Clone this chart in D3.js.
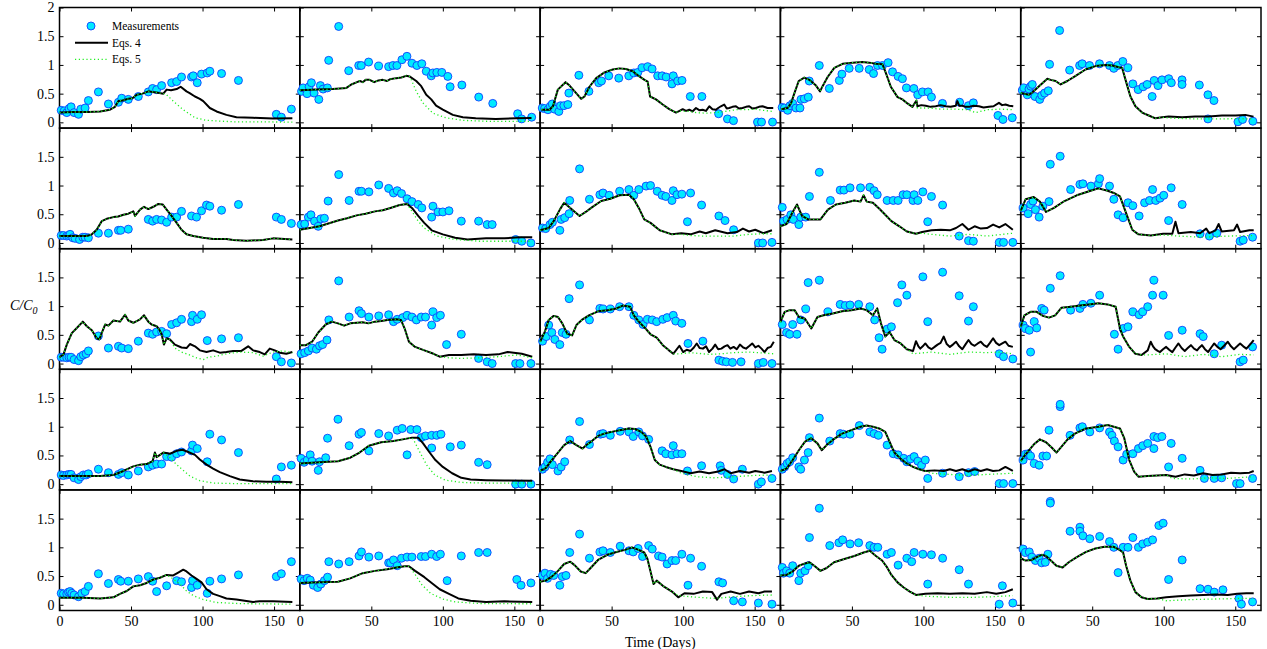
<!DOCTYPE html>
<html>
<head>
<meta charset="utf-8">
<script src="https://cdn.jsdelivr.net/npm/d3@7"></script>
<style>
  html, body { margin: 0; padding: 0; background: #fff; }
  svg { display: block; font-family: "Liberation Serif", "Times New Roman", serif; }
  .axis text { font-family: "Liberation Serif", "Times New Roman", serif; font-size: 14px; fill: #000; }
  .axis line { stroke: #000; stroke-width: 1; }
</style>
</head>
<body>
<div id="chart"></div>
<script>
// ---- axis settings ----
const dayDomain = [0, 168];
const valueDomain = [-0.1, 2];
const dayTicks = [0, 50, 100, 150];
const valueTicksTop = [0, 0.5, 1, 1.5, 2];
const valueTicks = [0, 0.5, 1, 1.5];
const legendLabels = ["Measurements", "Eqs. 4", "Eqs. 5"];
const xTitle = "Time (Days)";

// ---- measured C/C0, one list of [day, value] per panel (row by row) ----
const measurements = [
  // row 1
  [[1.2,.21],[3.3,.20],[5.1,.17],[6.7,.24],[8.1,.27],[10.2,.17],[13.3,.14],[14.9,.23],[17.9,.25],[20.2,.38],[27.2,.53],[34.2,.32],[41.2,.35],[43.5,.42],[48.1,.40],[55.1,.45],[62.1,.53],[65.1,.59],[67.9,.57],[71.4,.64],[78.4,.69],[81.9,.71],[85.3,.79],[92.3,.79],[93.5,.81],[96.3,.69],[99.3,.84],[103.3,.86],[105.1,.89],[113.3,.85],[125.1,.73],[151.6,.14],[155.1,.09],[162.1,.23]],
  [[1.2,.54],[2.3,.60],[5.1,.50],[6.5,.62],[8.1,.69],[10,.51],[13.3,.40],[14.4,.64],[16.3,.58],[19.3,.60],[20.2,1.08],[27.2,1.67],[34.2,.90],[41.2,.99],[43,.99],[48.1,1.05],[55.1,.98],[62.1,.97],[65.1,.99],[67.9,.99],[71.4,1.09],[74.9,1.15],[78.4,1.03],[81.9,.99],[85.3,1.02],[88.4,.89],[91.9,.81],[93,.86],[95.8,.87],[99.3,.87],[103.5,.80],[105.1,.62],[113.3,.65],[125.1,.44],[134.9,.33],[152.3,.15],[155.1,.06],[162.1,.09]],
  [[1.5,.25],[3.1,.24],[5.5,.22],[7.1,.28],[8.5,.32],[10.1,.23],[13.1,.19],[14.3,.29],[16.6,.29],[19.4,.31],[20.1,.51],[27.1,.82],[34.1,.54],[41,.69],[42.9,.72],[48,.81],[55,.77],[62,.81],[65.5,.86],[68.3,.87],[71.3,.95],[75.2,.97],[78.3,.93],[82.2,.81],[85.3,.81],[88.1,.79],[92.2,.67],[93.1,.81],[96.2,.72],[99.2,.73],[105,.45],[113.1,.45],[124.8,.15],[131,.06],[135.2,.03],[152,.005],[154.8,.005],[162.5,.005]],
  [[1.2,.26],[2.8,.25],[5.1,.21],[6.7,.29],[8.6,.33],[10.9,.25],[13.7,.25],[14.4,.40],[16.7,.41],[19.5,.44],[20.2,.72],[27.2,.99],[34.2,.59],[41.2,.73],[43,.84],[48.1,.94],[55.1,.94],[62.1,.92],[65.1,.85],[67.9,.99],[71.4,.99],[75.3,1.04],[78.4,.88],[82.3,.80],[85.3,.76],[88.1,.60],[93.3,.59],[96,.48],[99.3,.53],[103.3,.53],[105.6,.44],[113.3,.33],[125.3,.35],[131.4,.29],[134.9,.34],[152.1,.12],[155.6,.05],[162.1,.08]],
  [[1.2,.56],[2.3,.60],[4.7,.48],[5.8,.58],[7,.63],[8.1,.66],[10,.45],[13.3,.40],[14.7,.47],[16.7,.51],[19.3,.55],[20.2,1.01],[27.2,1.60],[34.2,.91],[41.2,.99],[43,1.02],[48.1,.99],[55.1,1.02],[62.1,.99],[65.1,.94],[67.9,.99],[71.4,1.06],[74.9,.95],[78.4,.67],[82.1,.57],[85.6,.62],[88.4,.66],[91.9,.45],[93.3,.73],[96,.64],[98.8,.74],[103.5,.76],[105.3,.69],[112.8,.74],[112.8,.66],[124.9,.65],[130.9,.48],[135.1,.38],[130.9,.06],[151.9,.01],[155.1,.05],[162.3,.02]],
  // row 2
  [[1.2,.13],[2.8,.13],[5.1,.12],[6.3,.13],[7.4,.15],[9.3,.09],[10.9,.08],[14,.06],[16.3,.10],[17.9,.10],[20.2,.09],[27.2,.17],[34.2,.17],[41.2,.22],[42.8,.22],[48.1,.24],[62.1,.41],[65.1,.38],[67.9,.41],[71.4,.40],[74.9,.36],[78.4,.45],[81.9,.45],[85.3,.55],[92.3,.47],[95.8,.45],[99.3,.56],[102.8,.66],[105.1,.64],[113.3,.57],[125.1,.67],[151.6,.45],[155.1,.41],[162.1,.34]],
  [[0.9,.32],[3.4,.33],[6,.45],[7.8,.49],[10.3,.38],[12.9,.29],[14.7,.42],[17.2,.43],[19.8,.73],[27.2,1.19],[34.5,.74],[41.4,.90],[43.1,.90],[48.3,.89],[55.2,1.01],[62.1,.95],[65.5,.87],[68.1,.91],[71.1,.86],[75,.77],[78.4,.72],[82.8,.67],[85.3,.61],[92.2,.45],[93.1,.64],[96.6,.54],[100,.54],[104.3,.56],[112.9,.38],[125,.38],[131,.32],[134.5,.32],[150.9,.06],[155.2,.03],[161.6,0]],
  [[1.7,.26],[3.9,.25],[6.9,.32],[8.6,.36],[13.8,.22],[14.7,.41],[17.2,.44],[20.3,.51],[20.7,.74],[27.6,1.29],[34.5,.76],[41.8,.84],[44,.87],[48.3,.83],[55.6,.90],[62.1,.93],[65.5,.83],[69,.93],[74.1,.99],[77.2,1.0],[81.9,.90],[85.3,.83],[87.9,.81],[92.2,.74],[93.1,.91],[95.7,.84],[99.1,.85],[103,.37],[105.2,.87],[112.9,.66],[125,.47],[129.3,.39],[135.3,.23],[152.6,0],[155.6,0],[162.1,.01]],
  [[1.3,.62],[2.2,.38],[4.7,.41],[7.3,.49],[9,.41],[12.9,.32],[14.2,.45],[17.7,.45],[20.3,.81],[27.2,1.23],[35,.74],[41.8,.92],[44.4,.92],[48.7,.96],[56,.96],[62.5,.97],[65.5,.91],[67.7,.84],[74.6,.74],[78.9,.74],[82.3,.74],[85.8,.84],[88.4,.84],[92.7,.74],[93.5,.84],[96.1,.74],[99.6,.89],[103,.37],[105.6,.81],[113.4,.66],[125,.12],[131.5,.04],[134.9,.03],[153,.01],[156,.01],[162.5,.01]],
  [[1.7,.61],[5.2,.51],[6.9,.67],[8.6,.73],[10.3,.58],[12.9,.45],[15.5,.64],[19.8,.72],[20.7,1.37],[27.6,1.51],[34.9,.93],[41.4,1.02],[43.5,1.03],[49.1,.99],[54.3,1.03],[55.2,1.12],[62.1,.99],[65.1,.76],[68.1,.49],[71.6,.44],[75,.70],[78.4,.65],[82.8,.47],[86.6,.70],[90.1,.74],[92.2,.93],[94.4,.74],[97.4,.78],[100,.83],[103.4,.39],[105.2,.96],[112.9,.67],[125.4,.16],[131.9,.12],[137.1,.17],[153.4,.03],[155.6,.05],[162.1,.10]],
  // row 3
  [[1.2,.11],[2.8,.11],[5.1,.10],[6.7,.11],[8.1,.11],[10.2,.07],[13.3,.05],[14.9,.12],[16.7,.15],[18.6,.17],[20.2,.22],[27.2,.48],[34.2,.27],[41.2,.30],[43.5,.27],[48.1,.26],[55.1,.39],[62.1,.53],[65.1,.51],[67.9,.55],[71.4,.56],[74.9,.52],[78.4,.68],[81.9,.71],[85.3,.77],[92.3,.73],[93,.84],[96.3,.77],[99.3,.85],[103.3,.40],[113.3,.43],[125.1,.45],[151.6,.12],[155.1,.03],[162.1,.01]],
  [[0.9,.17],[3.4,.19],[6,.22],[8.6,.27],[11.6,.25],[13.8,.31],[15.9,.33],[19,.41],[20.3,.76],[27.2,1.44],[34.5,.81],[41.4,.92],[43.1,.87],[48.3,.81],[55.2,.83],[62.1,.85],[65.5,.73],[68.1,.77],[72,.80],[75,.84],[78.4,.81],[81.5,.76],[84.9,.81],[87.9,.81],[92.2,.67],[93.1,.90],[95.7,.80],[98.3,.84],[102.6,.33],[112.9,.51],[125,.09],[131,.03],[134.5,0],[150.9,0],[153.9,0],[161.6,0]],
  [[1.7,.39],[4.3,.47],[6,.67],[8.2,.54],[10.3,.42],[13.8,.33],[15.5,.54],[18.1,.51],[20.3,1.13],[27.6,1.37],[34.5,.76],[41.8,.96],[44,.95],[49.1,.95],[55.6,.99],[62.1,.99],[65.5,.84],[69,.76],[72,.68],[75,.77],[78.4,.76],[81.5,.73],[85.8,.77],[88.8,.80],[93.1,.84],[94.8,.74],[99.1,.70],[103.4,.35],[113.8,.39],[125,.06],[127.6,.04],[130.2,.03],[134.5,.02],[140.5,.03],[152.6,0],[156,.02],[162.1,0]],
  [[1.3,.68],[4.3,.54],[6.5,.51],[8.6,.68],[11.6,.51],[14.2,.76],[17.7,.95],[19.4,1.41],[27.2,1.45],[33.2,.90],[41.8,1.03],[45.3,1.01],[48.7,1.02],[54.7,1.03],[62.5,.99],[65.9,.76],[69,.45],[71.1,.25],[74.6,.60],[77.6,.64],[81.9,1.06],[84.9,1.37],[88.4,1.19],[99.6,1.51],[103,.73],[113.4,1.59],[125,1.18],[131.5,.74],[134.9,.99],[153,.17],[156,.12],[162.5,.08]],
  [[1.7,.67],[3.4,.61],[6,.58],[6.9,.20],[9.5,.73],[11.2,.62],[14.7,.96],[16.4,.93],[20.7,1.31],[27.6,1.53],[34.9,.93],[41.4,.96],[43.5,1.03],[49.1,1.05],[55.2,1.19],[65.5,.51],[68.1,.25],[71.6,.61],[75,.64],[78.4,.90],[82.8,.85],[85.3,.90],[88.8,.99],[92.2,1.19],[93.1,1.45],[99.6,1.19],[103.4,.49],[112.9,.58],[125.4,.52],[127.6,.47],[135.3,.17],[140.5,.32],[153.4,.03],[155.6,.06],[162.1,.29]],
  // row 4
  [[1.2,.16],[2.8,.15],[5.1,.16],[6.7,.17],[8.1,.17],[10.2,.11],[13.3,.08],[14.9,.13],[16.7,.16],[18.6,.16],[20.2,.18],[27.2,.26],[34.2,.20],[41.2,.17],[43.5,.20],[48.1,.16],[55.1,.23],[62.1,.30],[65.1,.33],[67.9,.35],[71.4,.35],[74.9,.48],[78.4,.47],[81.9,.53],[85.3,.56],[92.3,.58],[93,.68],[96.3,.62],[103.3,.39],[105.1,.87],[113.3,.77],[125.1,.55],[151.6,.09],[155.1,.30],[162.1,.33]],
  [[0.9,.45],[3,.38],[5.2,.42],[7.3,.51],[8.6,.40],[12.9,.24],[13.8,.39],[18.1,.46],[19.4,.80],[26.7,1.13],[34.5,.67],[41.4,.87],[43.1,.90],[48.3,.58],[55.2,.88],[62.1,.84],[68.1,.94],[71.6,.97],[75,.51],[77.6,.95],[81.9,.95],[84.9,.81],[87.9,.84],[92.2,.63],[92.2,.85],[95.7,.85],[98.7,.87],[105.2,.65],[112.9,.68],[125,.38],[131,.34],[150.9,0],[155.2,0],[161.6,0]],
  [[1.7,.26],[3.4,.30],[5.2,.38],[6.9,.44],[8.6,.34],[12.5,.23],[14.7,.30],[17.2,.39],[20.7,.77],[27.6,1.09],[34.5,.69],[42.2,.87],[44,.88],[49.1,.85],[56,.92],[62.1,.91],[65.1,.83],[69,.91],[71.6,.84],[75.9,.78],[85.3,.58],[87.9,.53],[92.2,.51],[93.1,.67],[95.7,.53],[99.1,.53],[103,.23],[112.9,.32],[125.9,.32],[126.7,.24],[131,.17],[135.3,.09],[141.4,.26],[152.6,0],[154.7,.04],[162.1,.10]],
  [[1.3,.26],[3,.30],[4.7,.36],[6.5,.39],[8.6,.46],[12.9,.30],[14.2,.26],[16.8,.42],[19.4,.55],[20.3,.81],[27.2,1.15],[34.5,.75],[41.8,.88],[44,.87],[48.7,.87],[55.2,1.02],[62.5,.91],[65.5,.88],[68.5,.85],[74.6,.68],[78.9,.53],[82.3,.51],[86.2,.45],[88.4,.39],[91,.44],[93.5,.48],[96.1,.40],[98.7,.33],[101.3,.42],[103,.10],[113.4,.19],[125,.13],[131.5,.20],[135.8,.22],[153,.01],[156,.01],[162.5,.01]],
  [[1.7,.42],[3.4,.52],[5.2,.53],[6.9,.49],[9.5,.36],[12.9,.33],[15.5,.49],[18.1,.49],[19.8,.94],[27.6,1.35],[27.6,1.39],[34.5,.85],[41.4,.98],[43.1,1.0],[48.3,.91],[55.2,.98],[62.1,.91],[63.8,.85],[65.5,.75],[68.1,.65],[71.6,.42],[74.1,.52],[78.4,.53],[82.3,.62],[85.3,.67],[88.8,.71],[93.1,.83],[93.1,.62],[95.7,.81],[98.7,.83],[103.4,.30],[105.2,.71],[112.9,.45],[125.4,.24],[128.4,.10],[135.3,.10],[140.5,.11],[150.9,.01],[153.4,.01],[162.1,.10]],
  // row 5
  [[1.2,.20],[2.8,.19],[5.1,.19],[6.3,.22],[7.4,.23],[8.6,.20],[10.2,.17],[13.3,.14],[15.6,.20],[17.9,.23],[20.2,.32],[27.2,.54],[34.2,.37],[41.2,.44],[42.8,.41],[48.1,.41],[55.1,.45],[62.1,.49],[65.1,.41],[67.9,.23],[74.9,.33],[81.9,.42],[85.3,.40],[92.3,.30],[93,.42],[96.3,.34],[103.3,.20],[105.1,.41],[113.3,.45],[125.1,.52],[151.6,.49],[155.1,.54],[162.1,.75]],
  [[0.9,.45],[3,.42],[5.2,.46],[7.3,.43],[9.5,.34],[12.5,.30],[14.7,.36],[17.2,.42],[19.4,.48],[20.3,.75],[27.2,.71],[34.5,.75],[41.4,.85],[43.1,.92],[48.3,.83],[55.2,.85],[62.1,.73],[63.4,.73],[65.5,.78],[68.1,.68],[71.1,.81],[75,.83],[78.4,.83],[84.9,.84],[87.9,.84],[92.2,.88],[95.7,.84],[98.3,.88],[103,.42],[112.9,.85],[125,.91],[131,.91],[151.7,.44],[154.7,.34],[161.6,.38]],
  [[1.7,.51],[3.4,.55],[5.2,.46],[7.3,.53],[9.5,.51],[13.8,.34],[15.5,.49],[18.1,.51],[20.7,.91],[27.6,1.23],[34.5,.81],[41.8,.92],[44,.94],[49.1,.91],[56,1.02],[62.1,.94],[65.1,.92],[68.5,.98],[71.6,.84],[75.9,1.03],[78.4,.97],[82.8,.85],[85.3,.83],[88.8,.71],[92.2,.77],[94.8,.77],[99.1,.88],[103.4,.34],[105.2,.81],[112.9,.67],[125,.40],[127.6,.38],[135.3,.07],[141.4,.05],[152.6,.03],[162.1,.01]],
  [[1.3,.65],[2.2,.55],[4.3,.59],[6.5,.55],[8.6,.68],[12.9,.42],[14.2,.55],[17.2,.59],[19.4,.68],[20.3,1.17],[27.2,1.68],[34.5,1.03],[40.9,1.08],[43.5,1.13],[48.7,1.06],[54.7,1.08],[62.5,1.03],[65.5,1.0],[68.1,1.0],[74.6,.88],[77.6,.91],[82.3,.69],[88.4,.81],[91.8,.75],[93.5,.91],[99.6,.88],[103,.36],[105.6,.87],[113.4,.81],[125,.61],[131.5,.36],[153,.01],[155.2,.33],[162.5,.03]],
  [[1.7,.97],[3.4,.91],[6,.92],[7.8,.83],[10.3,.77],[12.9,.81],[14.7,.73],[17.2,.74],[19,.88],[20.7,1.80],[20.7,1.77],[34.5,1.28],[41.4,1.35],[41.4,1.28],[43.5,1.20],[48.3,1.15],[55.2,1.19],[62.1,1.10],[65.1,1.0],[68.1,.56],[71.6,1.0],[75,1.0],[78.4,1.17],[82.3,1.0],[85.3,1.06],[88.8,1.09],[92.2,1.13],[96.6,1.38],[99.6,1.42],[103.4,.44],[112.9,.78],[125.4,.28],[131,.27],[135.3,.22],[141.4,.26],[152.6,.11],[154.3,.01],[162.1,.05]]
];

// ---- Eqs. 4 simulated C/C0, [day, value] per panel ----
const eqs4 = [
  // row 1
  [[0,.17],[10,.18],[20,.18],[28.4,.19],[35.3,.22],[38.8,.27],[41.2,.37],[44,.38],[48.1,.41],[51,.42],[54,.48],[58,.50],[62.1,.54],[65,.53],[67.9,.52],[72.6,.50],[74.9,.57],[78,.56],[81.9,.58],[84.7,.62],[88.8,.54],[91,.51],[94.7,.45],[98.1,.41],[100.5,.37],[105.1,.25],[109.8,.19],[116.7,.13],[123.7,.09],[135.3,.08],[149.3,.065],[162.8,.07]],
  [[0,.56],[12,.57],[23,.58],[32.6,.60],[36,.66],[40,.70],[42,.72],[44,.70],[46,.74],[48.8,.74],[52,.70],[55,.73],[58,.74],[61,.72],[63,.75],[67.4,.77],[71,.78],[74.4,.81],[76.7,.80],[81.4,.72],[84.9,.63],[88.4,.48],[91.9,.40],[95.3,.29],[100,.22],[107,.13],[114,.09],[123,.07],[137,.06],[151,.07],[162,.075]],
  [[0.8,.22],[6.6,.22],[9,.28],[12.4,.57],[17.8,.70],[20.6,.64],[25.2,.51],[28.7,.41],[31,.45],[34.5,.62],[39.2,.77],[45,.87],[50.8,.92],[55.5,.94],[60,.93],[64.8,.89],[69.4,.80],[73,.74],[75.2,.71],[76.9,.45],[81,.40],[85.7,.31],[90.3,.23],[95,.17],[97.5,.20],[99.7,.23],[102,.20],[104.3,.22],[106.5,.19],[109,.25],[111.5,.21],[113.6,.22],[116,.20],[118.3,.28],[120.5,.23],[122.9,.22],[124.5,.25],[126.4,.28],[128.7,.31],[130.5,.24],[132.2,.25],[134.5,.27],[136.9,.28],[139,.24],[141.5,.25],[144,.27],[146.2,.28],[148.5,.24],[150.8,.25],[153,.27],[155.5,.28],[159,.25],[163,.25]],
  [[0.5,.23],[5.1,.25],[7.4,.33],[9.8,.51],[12.8,.72],[16.7,.78],[20.2,.74],[24.9,.64],[27.7,.54],[29.5,.63],[33,.79],[37.7,.95],[43.5,1.02],[50.5,1.04],[57.4,1.05],[62.1,1.04],[66.7,1.02],[71.4,1.01],[73.7,.86],[77.2,.62],[81.9,.44],[85.3,.40],[88.8,.33],[92.3,.27],[95.1,.38],[95.8,.28],[98.5,.30],[101.6,.29],[105,.27],[108.6,.28],[112,.30],[115.6,.28],[119,.27],[122.6,.29],[123.7,.37],[125,.29],[127.2,.29],[129.5,.27],[131.9,.27],[135,.29],[138.8,.28],[142,.26],[145.8,.27],[149,.28],[152.8,.34],[155,.30],[157.4,.31],[160,.29],[162.8,.28]],
  [[0,.51],[5.8,.48],[8.1,.52],[12.8,.63],[18.6,.76],[20.9,.74],[24.4,.72],[27.9,.66],[32.6,.72],[38.4,.81],[45.3,.92],[52.3,.98],[59.3,1.0],[64,.99],[68.6,.96],[70.9,.95],[73.3,.74],[76.7,.45],[80.2,.28],[84.9,.17],[89.5,.12],[94.2,.07],[98.8,.09],[103.5,.10],[112.8,.09],[122,.10],[131.4,.10],[140.7,.12],[150,.12],[157,.13],[162.8,.10]],
  // row 2
  [[0,.12],[9.8,.12],[19.1,.12],[22.6,.15],[26,.23],[29.5,.38],[33,.42],[37.7,.45],[41,.46],[44.7,.49],[48.1,.51],[51.6,.55],[52.8,.47],[56.3,.58],[59.1,.63],[62.1,.59],[65.6,.63],[69.1,.68],[72.1,.67],[74.9,.58],[78.4,.47],[81.9,.35],[85.3,.23],[88.8,.15],[93.5,.12],[100.5,.09],[107.4,.07],[116.7,.07],[121.4,.05],[130.7,.04],[142.3,.05],[149.3,.08],[162.8,.06]],
  [[0,.23],[13.8,.29],[26.7,.39],[33,.43],[39.7,.48],[46,.51],[52.6,.55],[58,.57],[63.4,.61],[69.8,.66],[75,.68],[78.4,.61],[82.8,.47],[87,.35],[92.2,.22],[100,.15],[108.6,.09],[117.2,.06],[130.2,.08],[143,.08],[153.9,.10],[162.5,.10]],
  [[0,.22],[6,.26],[9.5,.38],[13.8,.58],[16.8,.70],[21.1,.61],[27.6,.47],[31.9,.54],[36.2,.62],[42.7,.73],[49.1,.77],[55.6,.83],[62.1,.84],[65.5,.76],[69,.61],[72.8,.41],[77.2,.35],[83.6,.22],[92.2,.15],[98.7,.17],[105.2,.15],[111.6,.20],[115.9,.17],[122.4,.22],[131,.17],[137.5,.19],[141.8,.25],[146.1,.20],[150.4,.23],[156,.17],[162.1,.22]],
  [[0,.29],[4.3,.33],[8.6,.54],[11.6,.67],[15.1,.47],[19.4,.41],[28,.41],[33.2,.58],[38.8,.67],[45.3,.70],[51.7,.74],[56,.72],[58.2,.83],[60.3,.72],[64.7,.70],[69,.60],[73.3,.49],[77.6,.38],[83.2,.29],[88.4,.20],[94.8,.16],[99.1,.19],[105.6,.22],[112.1,.23],[118.5,.22],[122.8,.26],[127.2,.33],[131.5,.23],[135.8,.29],[140.1,.25],[144.4,.26],[148.7,.32],[153,.27],[157.3,.33],[162.5,.23]],
  [[0,.56],[3.4,.76],[9.1,.80],[13.4,.72],[17.7,.54],[23.3,.61],[30.6,.73],[39.2,.83],[47.8,.90],[54.3,.95],[60.8,.91],[65.1,.87],[69.4,.81],[73.7,.52],[78,.23],[82.3,.15],[90.9,.13],[99.6,.16],[106,.16],[108.2,.37],[110.3,.17],[119,.19],[125.4,.17],[129.7,.25],[131.9,.17],[136.2,.22],[138.4,.33],[140.5,.20],[149.1,.22],[151.3,.32],[153.4,.19],[159.9,.22],[162.9,.22]],
  // row 3
  [[0,.11],[2.8,.16],[5.1,.33],[8.6,.53],[12.1,.62],[16.3,.73],[19.1,.65],[22.6,.58],[26,.44],[27.9,.42],[29.5,.53],[31.9,.68],[34.2,.66],[37.7,.75],[42.3,.73],[45.8,.85],[48.1,.75],[51.6,.71],[56.3,.77],[59.1,.84],[62.1,.73],[64.4,.68],[67.9,.65],[69.8,.59],[71.4,.51],[73,.33],[74.9,.44],[77.2,.42],[80.7,.33],[85.3,.28],[88.8,.27],[91.2,.34],[94.7,.30],[98.1,.23],[102.8,.20],[107.4,.23],[112.1,.19],[116.7,.20],[121.4,.22],[127.2,.22],[131.9,.30],[135.3,.23],[140,.20],[143.5,.16],[147,.26],[150.5,.23],[154,.19],[158.6,.17],[162.8,.20]],
  [[0,.32],[4.3,.32],[8.6,.38],[12.9,.54],[18.1,.68],[22.4,.73],[26.7,.70],[31,.66],[35.3,.70],[40,.71],[43.9,.72],[48,.70],[52.6,.73],[57,.74],[61.2,.76],[67.7,.77],[70.7,.76],[73.3,.61],[76.3,.38],[80.6,.29],[87.1,.23],[93.5,.17],[97.8,.12],[104.3,.15],[112.9,.15],[121.6,.16],[130.2,.15],[138.8,.16],[145.3,.20],[149.6,.19],[155.2,.17],[162.5,.12]],
  [[0,.38],[3.4,.56],[6,.76],[9.5,.83],[12.5,.81],[15.5,.70],[19,.52],[22.4,.49],[25.4,.67],[29.7,.77],[34.1,.84],[40.5,.91],[47,.93],[53.4,.96],[57.8,1.01],[62.9,.99],[65.5,.84],[69,.73],[73.3,.62],[77.2,.51],[81.5,.45],[85.8,.32],[90.1,.23],[93.1,.17],[97.4,.31],[100,.20],[102.5,.24],[105.2,.22],[107.5,.28],[109.5,.35],[111.5,.27],[113.8,.26],[116,.30],[118.1,.20],[120.5,.26],[122.4,.33],[124.5,.25],[126.7,.26],[129,.30],[131,.32],[133,.26],[135.3,.29],[137.5,.25],[139.7,.33],[142,.28],[144,.26],[146,.30],[148.3,.35],[150.5,.28],[152.6,.31],[154.8,.26],[156.9,.20],[159,.27],[161.2,.29],[163.4,.38]],
  [[0,.72],[3,.90],[6.5,.93],[9.9,.93],[12.9,.81],[17.2,.78],[21.6,.61],[25.9,.81],[30.2,.84],[36.6,.87],[43.1,.91],[49.6,.93],[56,.96],[60.3,.93],[64.7,.84],[67.7,.96],[70.3,.70],[73.3,.47],[76.3,.55],[79.7,.41],[84.1,.35],[88.4,.25],[92.7,.22],[94.8,.39],[96.5,.30],[97.8,.26],[99.5,.30],[101.3,.35],[103.5,.28],[105.6,.25],[107.8,.29],[109.9,.33],[112,.36],[114.2,.47],[116.3,.34],[118.5,.29],[120.6,.33],[122.8,.38],[125,.30],[127.2,.25],[129.3,.33],[131.5,.41],[133.6,.34],[135.8,.31],[138,.35],[140.1,.38],[142.3,.32],[144.4,.29],[146.5,.36],[148.7,.44],[150.8,.36],[153,.32],[155.1,.35],[157.3,.38],[159.5,.31],[162.5,.29]],
  [[0,.64],[2.6,.84],[6.9,.90],[11.2,.90],[15.5,.83],[19.8,.80],[24.1,.84],[28.4,.97],[34.9,.99],[41.4,1.01],[47.8,1.03],[54.3,1.05],[60.8,1.03],[66.4,.99],[69.4,.61],[71.6,.47],[75.9,.29],[80.2,.17],[84.5,.15],[88.8,.23],[90.9,.38],[92.5,.30],[94,.25],[95.8,.22],[97.4,.20],[99.5,.25],[101.7,.29],[103.8,.24],[106,.20],[108.2,.28],[110.3,.35],[112.5,.27],[114.7,.22],[116.8,.27],[119,.32],[121.2,.26],[123.3,.23],[125,.28],[126.7,.32],[128.8,.25],[131,.20],[133.2,.28],[135.3,.35],[137.5,.29],[139.7,.25],[142.2,.31],[144.8,.38],[147,.30],[149.1,.25],[151.3,.30],[153.4,.35],[155.6,.30],[157.8,.26],[160.3,.33],[162.9,.41]],
  // row 4
  [[0,.14],[16.7,.14],[28.4,.14],[37.7,.16],[44.7,.23],[51.6,.31],[56.3,.34],[60.9,.35],[65.1,.40],[66.7,.55],[67.9,.47],[72.6,.55],[77.2,.53],[81.9,.58],[86,.60],[90,.56],[94.7,.51],[98.1,.43],[102.8,.34],[107.4,.27],[112.1,.21],[119.1,.14],[126,.08],[135.3,.05],[144.7,.04],[154,.04],[162.8,.035]],
  [[0,.36],[13.8,.38],[26.7,.40],[35.3,.46],[41.8,.55],[48.3,.67],[56.9,.73],[65.5,.75],[72,.78],[78.4,.81],[82.8,.81],[86.2,.71],[90.5,.56],[94.8,.42],[100,.30],[106.5,.19],[112.9,.11],[119.4,.08],[130.2,.07],[143.1,.064],[162.5,.058]],
  [[0,.23],[3.9,.28],[8.2,.42],[12.5,.55],[16.8,.68],[21.1,.75],[25.4,.68],[29.7,.62],[32.8,.69],[36.2,.75],[40.5,.84],[44.8,.88],[50,.91],[55.6,.94],[62.1,.97],[66.4,.96],[70.7,.91],[74.1,.83],[77.2,.65],[80.2,.42],[83.6,.34],[87.9,.30],[93.1,.26],[98.7,.23],[105.2,.19],[111.6,.22],[118.1,.19],[124.6,.22],[128.9,.26],[133.2,.19],[139.7,.23],[146.1,.20],[150.4,.23],[156.9,.20],[162.1,.23]],
  [[0,.23],[4.3,.27],[8.6,.42],[12.9,.59],[17.2,.74],[21.6,.80],[25.9,.71],[28.9,.59],[32.3,.68],[36.6,.77],[43.1,.88],[49.6,.94],[56,1.0],[60.3,1.02],[64.7,1.0],[69,.97],[73.3,.91],[76.3,.74],[79.7,.55],[84.1,.44],[88.4,.36],[92.7,.30],[97,.26],[101.3,.23],[107.8,.24],[114.2,.23],[118.5,.26],[122.8,.23],[127.2,.26],[131.5,.22],[135.8,.26],[140.1,.23],[144.4,.26],[148.7,.23],[153,.24],[157.3,.30],[162.5,.23]],
  [[0,.40],[3.4,.52],[9.1,.69],[13.4,.78],[17.7,.73],[22,.63],[25,.55],[28.4,.65],[32.8,.78],[37.9,.88],[45.7,.97],[54.3,1.0],[60.8,1.03],[65.1,1.0],[69.4,.97],[72.4,.80],[75.9,.42],[79.3,.22],[82.3,.13],[88.8,.14],[95.3,.15],[101.7,.16],[108.2,.13],[114.7,.17],[121.1,.15],[127.6,.19],[134.1,.16],[140.5,.17],[147,.20],[153.4,.19],[159.9,.20],[162.9,.23]],
  // row 5
  [[0,.12],[16.7,.12],[28.4,.11],[37.7,.13],[42.3,.19],[47,.24],[51.6,.32],[56.3,.34],[60.9,.38],[65.6,.44],[70.2,.47],[74.9,.52],[79.5,.51],[83,.56],[86.5,.61],[88.8,.58],[92.3,.51],[95.8,.45],[99.3,.39],[102.8,.27],[107.4,.19],[112.1,.15],[116.7,.11],[123.7,.09],[135.3,.05],[140,.06],[149.3,.06],[162.8,.05]],
  [[0,.38],[13.8,.39],[26.7,.40],[35.3,.46],[44,.55],[52.6,.59],[61.2,.62],[67.7,.65],[73.3,.67],[76.3,.67],[80.6,.59],[87.1,.48],[92.2,.38],[97.8,.27],[104.3,.19],[110.8,.11],[119.4,.07],[130.2,.05],[143.1,.06],[162.5,.05]],
  [[0,.40],[3.9,.42],[8.2,.49],[12.5,.59],[16.8,.71],[21.1,.75],[24.1,.69],[28.4,.58],[31.9,.55],[35.3,.64],[40.5,.78],[47,.87],[53.4,.92],[59.9,.96],[64.2,1.0],[68.5,.96],[72.8,.91],[75,.80],[77.2,.58],[79.3,.36],[81.5,.42],[85.8,.33],[92.2,.23],[96.6,.13],[100.9,.20],[107.3,.19],[113.8,.23],[120.3,.22],[123.7,.09],[126.7,.19],[133.2,.23],[139.7,.19],[146.1,.23],[152.6,.20],[156.9,.23],[162.1,.23]],
  [[0,.51],[4.3,.52],[8.6,.58],[12.9,.68],[17.2,.72],[20.3,.74],[23.7,.68],[28,.59],[32.3,.64],[37.5,.74],[45.3,.80],[51.7,.85],[58.2,.91],[62.5,.94],[66.8,.85],[71.1,.77],[74.6,.65],[77.6,.52],[81.9,.39],[86.2,.30],[90.5,.23],[94.8,.17],[101.3,.19],[109.9,.20],[118.5,.19],[127.2,.20],[135.8,.19],[144.4,.22],[150.9,.19],[157.3,.22],[162.5,.27]],
  [[0,.81],[3.4,.77],[7.8,.78],[11.2,.83],[14.7,.87],[17.7,.85],[20.7,.78],[25,.68],[29.3,.65],[33.6,.74],[39.2,.83],[45.7,.92],[52.2,.98],[58.6,1.01],[65.1,1.01],[69.4,.95],[71.6,.91],[73.7,.68],[76.7,.42],[80.2,.22],[84.5,.13],[88.8,.10],[95.3,.11],[101.7,.13],[110.3,.15],[119,.16],[127.6,.17],[136.2,.18],[144.8,.17],[151.3,.19],[157.8,.20],[162.9,.20]]
];

// ---- Eqs. 5: identical to Eqs. 4 up to the first day listed here, these values afterwards ----
const eqs5 = [
  // row 1
  [[74.9,.48],[79.5,.37],[86.5,.22],[94.7,.08],[102.8,.035],[121.4,.01],[162.8,.005]],
  [[78,.74],[81.4,.54],[86,.34],[93,.16],[102,.08],[114,.035],[132.6,.017],[162,.017]],
  [[99.7,.19],[104.3,.19],[109,.17],[116,.16],[122.9,.17],[129.4,.19],[136.9,.22],[143.9,.22],[150.8,.23],[155.5,.21],[163,.19]],
  [[95.8,.25],[102.8,.25],[112.1,.23],[121.4,.23],[130.7,.22],[136.5,.17],[144.7,.22],[154,.23],[162.8,.22]],
  [[103.5,.075],[122,.06],[140.7,.06],[150,.065],[162.8,.06]],
  // row 2
  [],
  [[78.4,.55],[82.8,.38],[87,.26],[95.7,.12],[108.6,.06],[125.9,.03],[162.5,.03]],
  [[98.7,.15],[105.2,.13],[113.8,.12],[125,.12],[135,.12],[146.1,.15],[155,.16],[162.1,.16]],
  [[99.1,.17],[105.6,.15],[118.5,.12],[131.5,.15],[144.4,.12],[162.5,.17]],
  [[99.6,.14],[110.3,.12],[127.6,.10],[144.8,.12],[162.9,.13]],
  // row 3
  [[77.2,.42],[80.7,.27],[85.3,.20],[89.9,.16],[95.8,.10],[100.5,.07],[104,.11],[109.8,.13],[116.7,.17],[126,.20],[135.3,.19],[142.3,.13],[149.3,.20],[156.3,.22],[162.8,.19]],
  [[104.3,.10],[112.9,.09],[125.9,.10],[138.8,.12],[151.7,.15],[162.5,.10]],
  [[97.4,.17],[105.2,.19],[118.1,.16],[126.7,.17],[135.3,.19],[146.1,.20],[163.4,.17]],
  [[92.7,.17],[105.6,.20],[118.5,.16],[131.5,.20],[144.4,.19],[153,.20],[162.5,.17]],
  [[88.8,.15],[101.7,.17],[114.7,.12],[127.6,.16],[140.5,.12],[153.4,.16],[162.9,.15]],
  // row 4
  [[77.2,.46],[81.9,.34],[86.5,.24],[91.2,.14],[98.1,.06],[107.4,.02],[121.4,.01],[162.8,.01]],
  [[80.2,.74],[84.5,.53],[88.8,.33],[94.4,.16],[101.7,.07],[112.9,.03],[130.2,.017],[162.5,.017]],
  [[98.7,.19],[109.5,.13],[122.4,.11],[135.3,.13],[148.3,.15],[162.1,.16]],
  [[105.2,.19],[118.5,.17],[131.5,.15],[144.4,.17],[162.5,.19]],
  [[106,.10],[119,.09],[131.9,.11],[144.8,.10],[162.9,.13]],
  // row 5
  [[79.5,.45],[84.2,.36],[88.8,.24],[93.5,.16],[100.5,.09],[109.8,.04],[126,.02],[162.8,.01]],
  [[80.6,.53],[84.9,.36],[91.4,.20],[100,.10],[108.6,.05],[125.9,.02],[162.5,.017]],
  [[96.6,.16],[109.5,.13],[122.4,.11],[135.3,.14],[148.3,.16],[162.1,.17]],
  [[101.3,.15],[118.5,.13],[135.8,.13],[148.7,.14],[162.5,.16]],
  [[101.7,.07],[119,.09],[136.2,.10],[153.4,.11],[162.9,.11]]
];

// ---- layout ----
const W = 1267, H = 649;
const nCols = 5;
const gridLeft = 59.5, gridTop = 7.5;
const panelW = 240.3, panelH = 120.6;
const tickLen = 4;
const markerFill = "#00eaff", markerStroke = "#1040ff";
const eqs4Color = "#000", eqs5Color = "#22ee22";

const svg = d3.select("#chart").append("svg")
  .attr("width", W).attr("height", H)
  .attr("viewBox", `0 0 ${W} ${H}`);
svg.append("rect").attr("width", W).attr("height", H).attr("fill", "#fff");

const x = d3.scaleLinear().domain(dayDomain).range([0, panelW]);
const y = d3.scaleLinear().domain(valueDomain).range([panelH, 0]);
const line = d3.line().x(d => x(d[0])).y(d => y(d[1]));
const fmtValue = d3.format("~g");
const nRows = measurements.length / nCols;

measurements.forEach((meas, i) => {
  const r = Math.floor(i / nCols), c = i % nCols;
  const g = svg.append("g")
    .attr("transform", `translate(${gridLeft + c * panelW},${gridTop + r * panelH})`);

  // inward ticks on all four sides
  const vTicks = r === 0 ? valueTicksTop : valueTicks;
  const bottomAxis = d3.axisBottom(x).tickValues(dayTicks).tickSizeInner(-tickLen).tickSizeOuter(0)
    .tickPadding(6).tickFormat(r === nRows - 1 ? d3.format("d") : () => "");
  const topAxis = d3.axisTop(x).tickValues(dayTicks).tickSizeInner(-tickLen).tickSizeOuter(0).tickFormat(() => "");
  const leftAxis = d3.axisLeft(y).tickValues(vTicks).tickSizeInner(-tickLen).tickSizeOuter(0)
    .tickPadding(5).tickFormat(c === 0 ? fmtValue : () => "");
  const rightAxis = d3.axisRight(y).tickValues(valueTicks).tickSizeInner(-tickLen).tickSizeOuter(0).tickFormat(() => "");

  g.append("g").attr("class", "axis").attr("transform", `translate(0,${panelH})`).call(bottomAxis);
  g.append("g").attr("class", "axis").call(topAxis);
  g.append("g").attr("class", "axis").call(leftAxis);
  g.append("g").attr("class", "axis").attr("transform", `translate(${panelW},0)`).call(rightAxis);
  g.selectAll(".axis .domain").remove();

  g.append("rect")
    .attr("width", panelW).attr("height", panelH)
    .attr("fill", "none").attr("stroke", "#000").attr("stroke-width", 1.5);

  // measurements
  g.append("g").selectAll("circle").data(meas).join("circle")
    .attr("cx", d => x(d[0])).attr("cy", d => y(d[1])).attr("r", 4)
    .attr("fill", markerFill).attr("stroke", markerStroke).attr("stroke-width", 0.9);

  // Eqs. 4
  g.append("path").datum(eqs4[i]).attr("d", line)
    .attr("fill", "none").attr("stroke", eqs4Color).attr("stroke-width", 2)
    .attr("stroke-linejoin", "round");

  // Eqs. 5
  const tail = eqs5[i];
  const split = tail.length ? tail[0][0] : Infinity;
  const e5 = eqs4[i].filter(d => d[0] < split).concat(tail);
  g.append("path").datum(e5).attr("d", line)
    .attr("fill", "none").attr("stroke", eqs5Color).attr("stroke-width", 1.3)
    .attr("stroke-dasharray", "1.2,2.6");

  // legend in the first panel
  if (i === 0) {
    const lg = g.append("g").attr("font-size", 11.5);
    lg.append("circle").attr("cx", 31.5).attr("cy", 18.5).attr("r", 4)
      .attr("fill", markerFill).attr("stroke", markerStroke).attr("stroke-width", 0.9);
    lg.append("line").attr("x1", 15.5).attr("x2", 48.5).attr("y1", 35.2).attr("y2", 35.2)
      .attr("stroke", eqs4Color).attr("stroke-width", 2);
    lg.append("line").attr("x1", 15.5).attr("x2", 48.5).attr("y1", 51.8).attr("y2", 51.8)
      .attr("stroke", eqs5Color).attr("stroke-width", 1.3).attr("stroke-dasharray", "1.2,2.6");
    [18.5, 35.2, 51.8].forEach((yy, k) => {
      lg.append("text").attr("x", 52.5).attr("y", yy).attr("dy", "0.35em").text(legendLabels[k]);
    });
  }
});

// axis titles
svg.append("text")
  .attr("x", gridLeft + nCols * panelW / 2).attr("y", 647)
  .attr("text-anchor", "middle").attr("font-size", 14)
  .text(xTitle);

const yt = svg.append("text").attr("x", 10).attr("y", 310)
  .attr("font-size", 14).attr("font-style", "italic");
yt.append("tspan").text("C/C");
yt.append("tspan").attr("font-size", 10).attr("dy", 4).text("0");
</script>
</body>
</html>
